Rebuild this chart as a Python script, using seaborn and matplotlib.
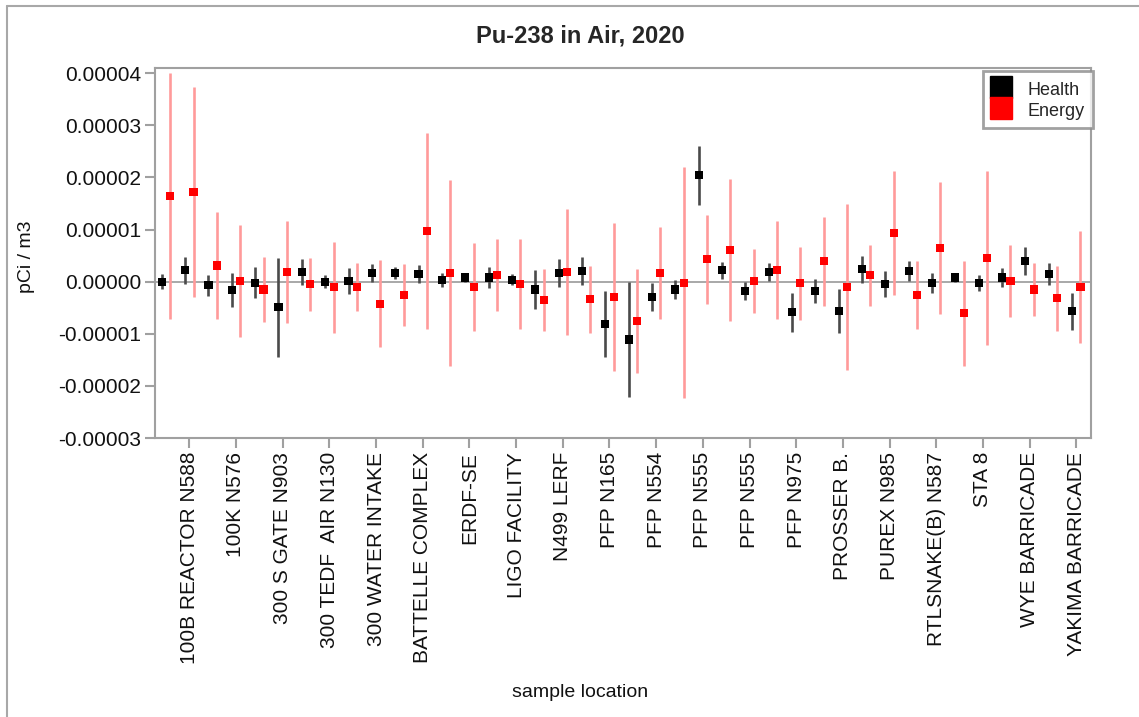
import numpy as np
import pandas as pd
import matplotlib
matplotlib.use('Agg')
import matplotlib.pyplot as plt
from matplotlib.lines import Line2D
from matplotlib.ticker import FormatStrFormatter
import seaborn as sns

# 40 sample locations, only every second one is labelled on the axis
n_loc = 40
shown_labels = ["100B REACTOR N588", "100K N576", "300 S GATE N903", "300 TEDF  AIR N130",
                "300 WATER INTAKE", "BATTELLE COMPLEX", "ERDF-SE", "LIGO FACILITY",
                "N499 LERF", "PFP N165", "PFP N554", "PFP N555", "PFP N555", "PFP N975",
                "PROSSER B.", "PUREX N985", "RTLSNAKE(B) N587", "STA 8", "WYE BARRICADE",
                "YAKIMA BARRICADE"]

# values, in units of 1e-5 pCi/m3
health = [0.00, 0.22, -0.07, -0.16, -0.02, -0.49, 0.18, 0.00, 0.02, 0.17,
          0.17, 0.15, 0.03, 0.08, 0.08, 0.04, -0.15, 0.16, 0.20, -0.81,
          -1.11, -0.30, -0.15, 2.04, 0.22, -0.18, 0.18, -0.59, -0.18, -0.57,
          0.24, -0.05, 0.20, -0.03, 0.08, -0.03, 0.08, 0.39, 0.15, -0.57]
health_err = [0.15, 0.26, 0.20, 0.33, 0.30, 0.95, 0.25, 0.13, 0.25, 0.17,
              0.12, 0.17, 0.13, 0.09, 0.20, 0.11, 0.38, 0.27, 0.27, 0.63,
              1.11, 0.27, 0.18, 0.57, 0.16, 0.18, 0.17, 0.37, 0.23, 0.42,
              0.26, 0.25, 0.19, 0.19, 0.09, 0.15, 0.19, 0.27, 0.21, 0.35]
energy = [1.64, 1.72, 0.31, 0.01, -0.15, 0.18, -0.05, -0.11, -0.11, -0.42,
          -0.26, 0.97, 0.17, -0.10, 0.12, -0.05, -0.35, 0.18, -0.34, -0.30,
          -0.76, 0.17, -0.02, 0.43, 0.61, 0.01, 0.22, -0.03, 0.39, -0.10,
          0.12, 0.93, -0.26, 0.65, -0.61, 0.45, 0.01, -0.15, -0.32, -0.10]
energy_err = [2.36, 2.01, 1.03, 1.07, 0.63, 0.98, 0.51, 0.88, 0.46, 0.84,
              0.59, 1.88, 1.78, 0.84, 0.69, 0.86, 0.60, 1.21, 0.65, 1.42,
              1.00, 0.88, 2.22, 0.85, 1.36, 0.61, 0.94, 0.70, 0.86, 1.59,
              0.59, 1.19, 0.65, 1.27, 1.00, 1.67, 0.69, 0.50, 0.63, 1.07]

scale = 1e-5
rows = []
for i in range(n_loc):
    rows.append(dict(loc=i, lab="Health", val=health[i] * scale, err=health_err[i] * scale))
    rows.append(dict(loc=i, lab="Energy", val=energy[i] * scale, err=energy_err[i] * scale))
df = pd.DataFrame(rows)
df["x"] = df["loc"] + np.where(df["lab"] == "Health", -0.18, 0.18)

colors = {"Health": "black", "Energy": "red"}
bar_colors = {"Health": "#4a4a4a", "Energy": "#ff9a9a"}

sns.set_theme(style="white")
plt.rcParams['font.family'] = ['Liberation Sans', 'DejaVu Sans']

W, H = 1139, 717
fig = plt.figure(figsize=(W / 100, H / 100), dpi=100)
ax = fig.add_axes([155 / W, 1 - 438 / H, 936 / W, 370 / H])

ax.axhline(0, color="#9a9a9a", lw=1.2, zorder=1)
for lab in ["Health", "Energy"]:
    sub = df[df["lab"] == lab]
    ax.vlines(sub["x"], sub["val"] - sub["err"], sub["val"] + sub["err"],
              color=bar_colors[lab], lw=1.9, zorder=2)
sns.scatterplot(data=df, x="x", y="val", hue="lab", palette=colors, marker="s",
                s=34, linewidth=0, legend=False, ax=ax, zorder=3)

ax.set_xlim(-0.47, 39.63)
ax.set_ylim(-3e-5, 4.1e-5)
ax.set_xticks(range(1, n_loc, 2))
ax.set_xticklabels(shown_labels, rotation=90)
ax.set_yticks(np.arange(-3, 5) * scale)
ax.yaxis.set_major_formatter(FormatStrFormatter('%.5f'))
ax.tick_params(bottom=True, left=True, length=7, width=1.5, color="#a0a0a0",
               labelsize=15, pad=3, labelcolor="#111111")

for sp in ax.spines.values():
    sp.set_color("#a0a0a0")
    sp.set_linewidth(1.5)

ax.set_xlabel("sample location", fontsize=14, color="#111111")
ax.xaxis.set_label_coords(0.454, -0.665)
ax.set_ylabel("pCi / m3", fontsize=14, color="#111111")
ax.yaxis.set_label_coords(-0.128, 0.49)
ax.set_title("Pu-238 in Air, 2020", fontsize=17, fontweight="bold", x=0.454, pad=18)

handles = [Line2D([], [], marker="s", ls="", color=colors[k], markersize=16) for k in colors]
leg = ax.legend(handles, list(colors), loc="upper right", bbox_to_anchor=(1.002, 0.992),
                frameon=True, fancybox=False, edgecolor="#8a8a8a", fontsize=13,
                handlelength=1.0, handleheight=1.25, handletextpad=1.0, borderpad=0.45,
                labelspacing=0.1, borderaxespad=0)
leg.get_frame().set_linewidth(2)

# window frame visible at the left and top of the screenshot
fig.add_artist(Line2D([7 / W, 7 / W], [0, 1 - 6 / H], transform=fig.transFigure,
                      color="#a8a8a8", lw=1.5))
fig.add_artist(Line2D([7 / W, 1], [1 - 6 / H, 1 - 6 / H], transform=fig.transFigure,
                      color="#a8a8a8", lw=1.5))

fig.savefig("out.png", dpi=100)
